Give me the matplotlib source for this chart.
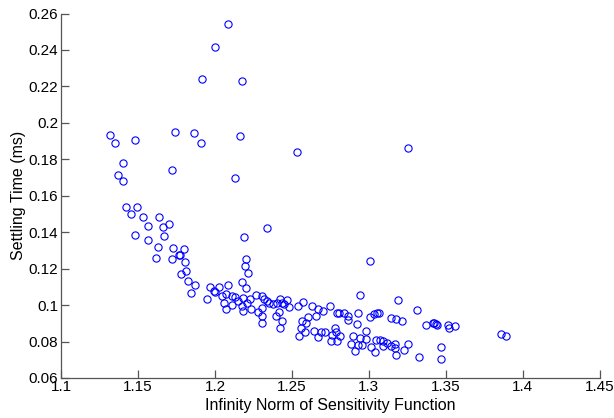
import matplotlib
matplotlib.use("Agg")
import matplotlib.pyplot as plt

plt.rcParams['font.family'] = ['Liberation Sans', 'DejaVu Sans']

# Infinity norm of the sensitivity function for each design
hinf_norm = [
    1.1318, 1.1351, 1.1482, 1.1400, 1.1369, 1.1400, 1.1423, 1.1492, 1.1454, 1.1531,
    1.1564, 1.1482, 1.1564, 1.1638, 1.1664, 1.1703, 1.1669, 1.1633, 1.1615, 1.1726,
    1.1800, 1.1764, 1.1772, 1.1718, 1.1805, 1.1815, 1.1779, 1.1828, 1.1869, 1.1844,
    1.1738, 1.1862, 1.1908, 1.1723, 1.1915, 1.2000, 1.2087, 1.2177, 1.2162, 1.2128,
    1.2338, 1.2190, 1.2205, 1.2195, 1.2218, 1.2174, 1.2200, 1.2082, 1.2531, 1.3256,
    1.3005, 1.1967, 1.2026, 1.1992, 1.2000, 1.1946, 1.2046, 1.2072, 1.2113, 1.2128,
    1.2056, 1.2069, 1.2108, 1.2149, 1.2185, 1.2179, 1.2182, 1.2208, 1.2228, 1.2236,
    1.2264, 1.2305, 1.2321, 1.2336, 1.2349, 1.2279, 1.2308, 1.2303, 1.2303, 1.2379,
    1.2405, 1.2421, 1.2436, 1.2467, 1.2451, 1.2482, 1.2397, 1.2415, 1.2436, 1.2426,
    1.2538, 1.2572, 1.2544, 1.2559, 1.2567, 1.2595, 1.2605, 1.2587, 1.2633, 1.2667,
    1.2659, 1.2703, 1.2641, 1.2672, 1.2690, 1.2718, 1.2751, 1.2795, 1.2805, 1.2836,
    1.2862, 1.2862, 1.2779, 1.2785, 1.2764, 1.2810, 1.2754, 1.2792, 1.2933, 1.2941,
    1.2923, 1.3005, 1.3036, 1.3056, 1.3064, 1.2985, 1.2897, 1.2941, 1.2979, 1.2887,
    1.2931, 1.2959, 1.2908, 1.3013, 1.3038, 1.3044, 1.3072, 1.3095, 1.3095, 1.3121,
    1.3146, 1.3172, 1.3172, 1.3174, 1.3228, 1.3256, 1.3144, 1.3179, 1.3215, 1.3190,
    1.3313, 1.3328, 1.3374, 1.3415, 1.3426, 1.3436, 1.3446, 1.3515, 1.3523, 1.3562,
    1.3467, 1.3472, 1.3862, 1.3890,
]

# Settling time in milliseconds for the same designs
settling_ms = [
    0.1936, 0.1891, 0.1904, 0.1781, 0.1712, 0.1679, 0.1541, 0.1541, 0.1501, 0.1484,
    0.1435, 0.1386, 0.1358, 0.1481, 0.1430, 0.1444, 0.1377, 0.1320, 0.1258, 0.1311,
    0.1307, 0.1275, 0.1277, 0.1251, 0.1238, 0.1185, 0.1169, 0.1132, 0.1110, 0.1067,
    0.1949, 0.1945, 0.1891, 0.1743, 0.2239, 0.2414, 0.2545, 0.2230, 0.1929, 0.1696,
    0.1422, 0.1373, 0.1253, 0.1213, 0.1174, 0.1129, 0.1094, 0.1109, 0.1840, 0.1860,
    0.1240, 0.1098, 0.1098, 0.1078, 0.1073, 0.1034, 0.1050, 0.1059, 0.1049, 0.1047,
    0.1014, 0.0981, 0.0999, 0.1023, 0.1038, 0.0996, 0.0965, 0.1010, 0.1036, 0.0977,
    0.1058, 0.1049, 0.1034, 0.1023, 0.1014, 0.0961, 0.0983, 0.0941, 0.0901, 0.1005,
    0.1010, 0.1032, 0.1014, 0.1028, 0.1007, 0.0992, 0.0941, 0.0961, 0.0914, 0.0877,
    0.0996, 0.1018, 0.0833, 0.0873, 0.0915, 0.0904, 0.0934, 0.0855, 0.0996, 0.0976,
    0.0941, 0.0965, 0.0859, 0.0824, 0.0852, 0.0853, 0.0996, 0.0959, 0.0959, 0.0956,
    0.0941, 0.0919, 0.0875, 0.0853, 0.0835, 0.0833, 0.0804, 0.0802, 0.0956, 0.1058,
    0.0899, 0.0935, 0.0952, 0.0954, 0.0956, 0.0859, 0.0828, 0.0817, 0.0813, 0.0786,
    0.0782, 0.0782, 0.0748, 0.0770, 0.0744, 0.0811, 0.0811, 0.0804, 0.0773, 0.0791,
    0.0773, 0.0788, 0.0764, 0.0724, 0.0751, 0.0786, 0.0928, 0.0923, 0.0912, 0.1030,
    0.0972, 0.0715, 0.0890, 0.0901, 0.0904, 0.0899, 0.0890, 0.0890, 0.0877, 0.0883,
    0.0771, 0.0706, 0.0844, 0.0830,
]

x_ticks = [1.1, 1.15, 1.2, 1.25, 1.3, 1.35, 1.4, 1.45]
x_tick_labels = ['1.1', '1.15', '1.2', '1.25', '1.3', '1.35', '1.4', '1.45']
y_ticks = [0.06, 0.08, 0.1, 0.12, 0.14, 0.16, 0.18, 0.2, 0.22, 0.24, 0.26]
y_tick_labels = ['0.06', '0.08', '0.1', '0.12', '0.14', '0.16', '0.18', '0.2',
                 '0.22', '0.24', '0.26']

fig = plt.figure(figsize=(6.14, 4.18), dpi=100)
ax = fig.add_axes([0.0995, 0.0957, 0.877, 0.872])

ax.plot(hinf_norm, settling_ms, linestyle='none', marker='o', markersize=5.2,
        markerfacecolor='none', markeredgecolor='#0000ff', markeredgewidth=0.8)

ax.set_xlim(1.1, 1.45)
ax.set_ylim(0.06, 0.26)
ax.set_xticks(x_ticks)
ax.set_xticklabels(x_tick_labels)
ax.set_yticks(y_ticks)
ax.set_yticklabels(y_tick_labels)

for side in ('top', 'right'):
    ax.spines[side].set_visible(False)
for side in ('left', 'bottom'):
    ax.spines[side].set_color('#555555')
    ax.spines[side].set_linewidth(0.9)

ax.tick_params(direction='in', length=5.5, width=0.9, colors='#555555',
               labelsize=11, labelcolor='black')
ax.tick_params(axis='x', pad=1.5)
ax.tick_params(axis='y', pad=2)

ax.set_xlabel('Infinity Norm of Sensitivity Function', fontsize=11.5, labelpad=3)
ax.set_ylabel('Settling Time (ms)', fontsize=11.5, labelpad=2)

fig.savefig('out.png', dpi=100)
